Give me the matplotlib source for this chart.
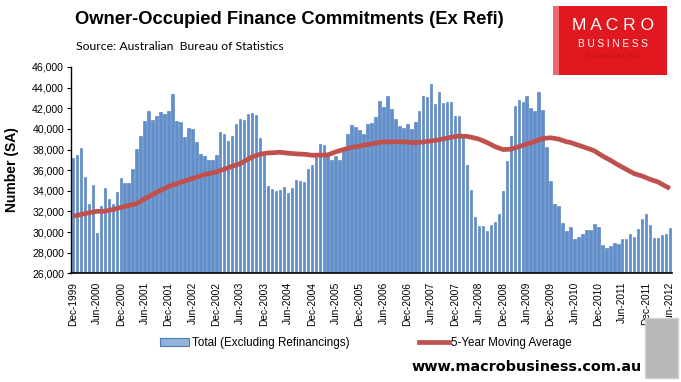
import matplotlib
matplotlib.use("Agg")
import matplotlib.pyplot as plt
from matplotlib.patches import Rectangle, Patch
from matplotlib.lines import Line2D
from matplotlib.ticker import FuncFormatter

tick_labels = ["Dec-1999", "Jun-2000", "Dec-2000", "Jun-2001", "Dec-2001", "Jun-2002",
               "Dec-2002", "Jun-2003", "Dec-2003", "Jun-2004", "Dec-2004", "Jun-2005",
               "Dec-2005", "Jun-2006", "Dec-2006", "Jun-2007", "Dec-2007", "Jun-2008",
               "Dec-2008", "Jun-2009", "Dec-2009", "Jun-2010", "Dec-2010", "Jun-2011",
               "Dec-2011", "Jun-2012"]

total_ex_refi = [
    37150, 37450, 38130, 35300, 32670, 34520, 29940, 32570, 34230, 33250,
    32670, 33840, 35200, 34720, 34720, 36080, 38030, 39300, 40760, 41740,
    40860, 41250, 41640, 41450, 41740, 43400, 40760, 40670, 39170, 40080,
    39980, 38720, 37610, 37420, 36960, 36960, 37510, 39690, 39460, 38810,
    39270, 40470, 40960, 40860, 41450, 41550, 41350, 39100, 37600, 34420,
    34200, 34000, 34100, 34390, 33810, 34290, 35070, 34980, 34880, 36150,
    36540, 37320, 38490, 38390, 37710, 37020, 37420, 37020, 38100, 39460,
    40340, 40150, 39850, 39460, 40440, 40540, 41120, 42680, 42100, 43170,
    41900, 40930, 40240, 40050, 40440, 39950, 40630, 41710, 43170, 43070,
    44340, 42390, 43560, 42490, 42590, 42590, 41220, 41220, 39070, 36540,
    34030, 31500, 30620, 30620, 30130, 30720, 31010, 31790, 33940, 36860,
    39300, 42230, 42810, 42620, 43200, 42030, 41740, 43590, 41840, 38230,
    34910, 32760, 32570, 30910, 30130, 30520, 29350, 29550, 29840, 30230,
    30230, 30810, 30520, 28760, 28470, 28670, 28960, 28860, 29350, 29350,
    29840, 29550, 30330, 31300, 31790, 30720, 29450, 29450, 29740, 29840,
    30420]

moving_avg_5yr = [
    31530, 31620, 31700, 31790, 31860, 31940, 32010, 32020, 32020, 32100,
    32180, 32280, 32370, 32470, 32570, 32670, 32760, 32990, 33220, 33430,
    33640, 33840, 34030, 34230, 34420, 34550, 34680, 34810, 34940, 35070,
    35200, 35320, 35440, 35560, 35650, 35740, 35820, 35960, 36100, 36240,
    36370, 36500, 36630, 36850, 37070, 37280, 37410, 37540, 37610, 37670,
    37680, 37710, 37740, 37690, 37640, 37610, 37580, 37560, 37550, 37500,
    37450, 37450, 37450, 37460, 37480, 37630, 37770, 37890, 38000, 38100,
    38200, 38260, 38330, 38410, 38490, 38520, 38620, 38720, 38730, 38740,
    38750, 38750, 38750, 38750, 38720, 38680, 38650, 38690, 38740, 38780,
    38830, 38890, 38940, 39030, 39120, 39200, 39250, 39300, 39290, 39270,
    39200, 39100, 39010, 38850, 38680, 38490, 38290, 38150, 38000, 38010,
    38030, 38150, 38260, 38390, 38520, 38650, 38780, 38930, 39070, 39110,
    39140, 39080, 39010, 38880, 38750, 38680, 38550, 38420, 38290, 38160,
    38020, 37870, 37630, 37380, 37170, 36960, 36730, 36500, 36290, 36080,
    35870, 35660, 35550, 35430, 35270, 35110, 34980, 34850, 34630, 34420,
    34230]

W, H = 681, 382
fig = plt.figure(figsize=(W / 100, H / 100), dpi=100)
fig.patch.set_facecolor("white")

ax = fig.add_axes([71 / W, 1 - 273.3 / H, (672 - 71) / W, (273.3 - 67) / H])
x = list(range(len(total_ex_refi)))
ax.bar(x, [v - 26000 for v in total_ex_refi], bottom=26000, width=0.62,
       color="#5F8FCD", edgecolor="#4A7AB8", linewidth=0.4, zorder=2)
ax.plot(x, moving_avg_5yr, color="#C0504D", linewidth=3.4, solid_capstyle="butt", zorder=3)

ax.set_xlim(-0.5, len(x) - 0.5)
ax.set_ylim(26000, 46000)
ax.set_yticks(range(26000, 46001, 2000))
ax.yaxis.set_major_formatter(FuncFormatter(lambda v, p: f"{int(v):,}"))
ax.set_xticks(list(range(0, len(x), 6)))
ax.set_xticklabels(tick_labels, rotation=90, fontsize=7.3, family="Liberation Sans")
for lab in ax.get_yticklabels():
    lab.set_fontsize(7.6)
    lab.set_family("Liberation Sans")
ax.tick_params(axis="y", direction="out", length=3, width=0.8, pad=2, colors="black")
ax.tick_params(axis="x", direction="out", length=0, pad=6)
for s in ["top", "right"]:
    ax.spines[s].set_visible(False)
ax.spines["left"].set_linewidth(1.0)
ax.spines["bottom"].set_linewidth(1.2)
ax.set_facecolor("white")

fig.text(12 / W, 1 - 170 / H, "Number (SA)", rotation=90, ha="center", va="center",
         fontsize=10, fontweight="bold", family="Liberation Sans")

fig.text(289 / W, 1 - 20 / H, "Owner-Occupied Finance Commitments (Ex Refi)",
         ha="center", va="center", fontsize=13.2, fontweight="bold", family="Liberation Sans")
fig.text(76 / W, 1 - 47 / H, "Source: Australian  Bureau of Statistics",
         ha="left", va="center", fontsize=8.8, family="Lato")

# logo
fig.patches.append(Rectangle((553 / W, 1 - 75 / H), 114 / W, 69 / H, transform=fig.transFigure,
                             facecolor="#E1181F", edgecolor="none"))
fig.patches.append(Rectangle((553 / W, 1 - 75 / H), 6 / W, 69 / H, transform=fig.transFigure,
                             facecolor="#EC6A6E", edgecolor="none"))
fig.text(613 / W, 1 - 25 / H, "M A C R O", ha="center", va="center", color="white",
         fontsize=12.5, family="Liberation Sans")
fig.text(613 / W, 1 - 44 / H, "B U S I N E S S", ha="center", va="center", color="white",
         fontsize=7.2, family="Liberation Sans")
fig.text(613 / W, 1 - 56 / H, "S U P E R B L O G", ha="center", va="center", color="#B01015",
         fontsize=4.5, family="Liberation Sans")

# legend
handles = [Patch(facecolor="#95B3D7", edgecolor="#4A7AB8", linewidth=0.8),
           Line2D([0], [0], color="#C0504D", linewidth=3.4)]
fig.legend(handles, ["Total (Excluding Refinancings)", "5-Year Moving Average"],
           loc="center", bbox_to_anchor=(366 / W, 1 - 343 / H), ncol=2, frameon=False,
           prop={"family": "Liberation Sans", "size": 8.4}, handlelength=2.5,
           handletextpad=0.25, columnspacing=6.0)

fig.text(527 / W, 1 - 367 / H, "www.macrobusiness.com.au", ha="center", va="center",
         fontsize=10.4, fontweight="bold", family="DejaVu Sans")
fig.patches.append(Rectangle((645 / W, 1 - 378 / H), 33 / W, 60 / H, transform=fig.transFigure,
                             facecolor="#B8B8B8", edgecolor="#D0D0D0", linewidth=1))

fig.savefig("out.png", dpi=100, facecolor="white")
